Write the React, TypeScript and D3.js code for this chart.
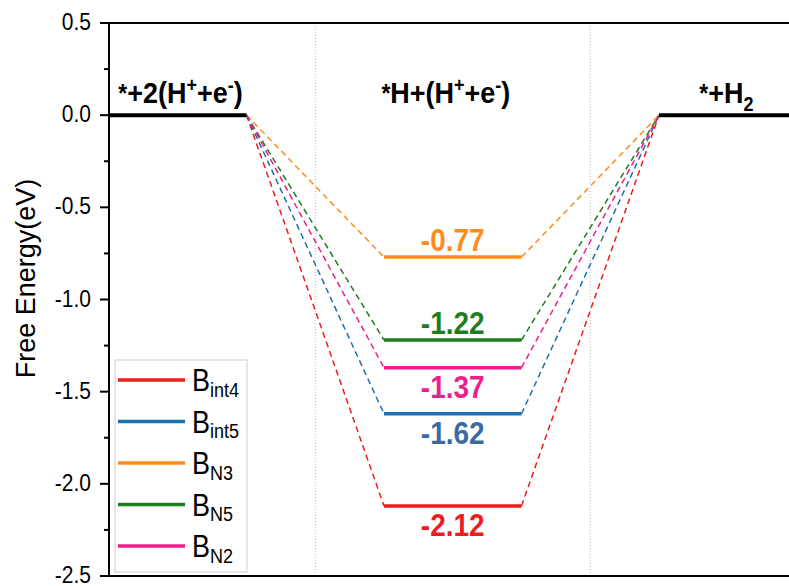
import * as d3 from "d3";

// free energy of the *H intermediate for each site, eV
const sites = ["int4", "int5", "N3", "N5", "N2"];
const energies = [-2.12, -1.62, -0.77, -1.22, -1.37];
const colors = ["#ee1c1c", "#1f6fad", "#ff8c1a", "#1e7d1e", "#ee1f8c"];
const textColors = ["#ee1c1c", "#3a6a9f", "#ff8c1a", "#1e7d1e", "#ee1f8c"];
// whether the value label sits above or below its level
const labelAbove = [false, false, true, true, false];

const yTicks = [0.5, 0.0, -0.5, -1.0, -1.5, -2.0, -2.5];

const width = 789;
const height = 586;
const margin = { top: 23, left: 109, bottom: 576 };

const font = "'Liberation Sans', Arial, sans-serif";
// the source picture is a little stretched vertically
const stretch = 1.12;

type Part = { t: string; dy?: number; size?: number };

// pieces of each step label; dy is a shift from the baseline
const stepLabels: Part[][] = [
  [{ t: "*", dy: -1, size: 23 }, { t: "+2(H" }, { t: "+", dy: -10, size: 18 }, { t: "+e" }, { t: "-", dy: -10, size: 18 }, { t: ")" }],
  [{ t: "*", dy: -1, size: 23 }, { t: "H+(H" }, { t: "+", dy: -10, size: 18 }, { t: "+e" }, { t: "-", dy: -10, size: 18 }, { t: ")" }],
  [{ t: "*", dy: -1, size: 23 }, { t: "+H" }, { t: "2", dy: 7, size: 18 }],
];
const stepCenters = [0.52, 2.45, 4.49];

function RichText({ x, y, parts, size, fill, anchor }: { x: number; y: number; parts: Part[]; size: number; fill: string; anchor: string }) {
  let cur = 0;
  return (
    <g transform={`translate(${x},${y}) scale(1,${stretch})`}>
      <text fontSize={size} fontWeight="bold" fill={fill} textAnchor={anchor} fontFamily={font}>
        {parts.map((p, i) => {
          const shift = (p.dy ?? 0) - cur;
          cur = p.dy ?? 0;
          return (
            <tspan key={i} dy={shift} fontSize={p.size ?? size}>
              {p.t}
            </tspan>
          );
        })}
      </text>
    </g>
  );
}

export default function App() {
  const x = d3.scaleLinear([0, 5], [margin.left, margin.left + 5 * 137.5]);
  const y = d3.scaleLinear([-2.5, 0.5], [margin.bottom, margin.top]);

  const minor = d3.range(-2.25, 0.5, 0.5);
  const fmt = (t: number) => d3.format(".1f")(t).replace("\u2212", "-");

  const line = d3.line<[number, number]>(
    (d) => x(d[0]),
    (d) => y(d[1]),
  );

  return (
    <svg width={width} height={height} style={{ position: "absolute", left: 0, top: 0, background: "#fff" }}>
      <rect width={width} height={height} fill="#fff" />

      {/* dotted separators */}
      {[1.5, 3.5].map((g) => (
        <line key={g} x1={x(g)} x2={x(g)} y1={margin.top + 3} y2={margin.bottom - 3} stroke="#bbb" strokeWidth={1} strokeDasharray="1,2" />
      ))}

      {/* dashed connectors */}
      {energies.map((e, i) => (
        <path
          key={"c" + i}
          d={line([[1, 0], [2, e]])! + line([[3, e], [4, 0]])!}
          fill="none"
          stroke={colors[i]}
          strokeWidth={1.5}
          strokeDasharray="6,4"
        />
      ))}

      {/* zero levels */}
      <path d={line([[0, 0], [1, 0]])! + line([[4, 0], [5.2, 0]])!} stroke="#000" strokeWidth={4} fill="none" />

      {/* intermediate levels */}
      {energies.map((e, i) => (
        <line key={"l" + i} x1={x(2)} x2={x(3)} y1={y(e)} y2={y(e)} stroke={colors[i]} strokeWidth={3.5} />
      ))}

      {/* value labels */}
      {energies.map((e, i) => (
        <g key={"v" + i} transform={`translate(${x(2.5)},${y(e) + (labelAbove[i] ? -6 : 30)}) scale(1,${stretch})`}>
          <text textAnchor="middle" fontSize={28} fontWeight="bold" fill={textColors[i]} fontFamily={font}>
            {e.toFixed(2)}
          </text>
        </g>
      ))}

      {/* step labels */}
      {stepLabels.map((p, i) => (
        <RichText key={"s" + i} x={x(stepCenters[i])} y={103} parts={p} size={27} fill="#000" anchor="middle" />
      ))}

      {/* frame */}
      <line x1={margin.left} x2={width} y1={margin.top} y2={margin.top} stroke="#000" strokeWidth={2} />
      <line x1={margin.left} x2={width} y1={margin.bottom} y2={margin.bottom} stroke="#000" strokeWidth={2} />
      <line x1={margin.left} x2={margin.left} y1={margin.top} y2={margin.bottom} stroke="#000" strokeWidth={2} />

      {/* y axis */}
      {yTicks.map((t) => (
        <g key={t}>
          <line x1={margin.left - 9} x2={margin.left} y1={y(t)} y2={y(t)} stroke="#000" strokeWidth={2} />
          <g transform={`translate(${margin.left - 18},${y(t) + 7}) scale(1,${stretch})`}>
            <text textAnchor="end" fontSize={21} fontFamily={font} fill="#000">
              {fmt(t)}
            </text>
          </g>
        </g>
      ))}
      {minor.map((t) => (
        <line key={"m" + t} x1={margin.left - 5} x2={margin.left} y1={y(t)} y2={y(t)} stroke="#000" strokeWidth={2} />
      ))}
      <text
        transform={`translate(35, ${(margin.top + margin.bottom) / 2 - 21}) rotate(-90)`}
        textAnchor="middle"
        fontSize={27}
        fontFamily={font}
        fill="#000"
      >
        Free Energy(eV)
      </text>

      {/* legend */}
      <g transform="translate(115, 360)">
        <rect width={132} height={212} fill="#fff" stroke="#ccc" strokeWidth={1} />
        {sites.map((s, i) => {
          const ly = 20 + i * 41.5;
          return (
            <g key={s} transform={`translate(0, ${ly})`}>
              <line x1={3} x2={70} y1={0} y2={0} stroke={colors[i]} strokeWidth={3.5} />
              <g transform={`translate(77, 11) scale(1,1.15)`}>
                <text fontSize={27} fontFamily={font} fill="#000">
                  B
                  <tspan fontSize={18} dy={5}>
                    {s}
                  </tspan>
                </text>
              </g>
            </g>
          );
        })}
      </g>
    </svg>
  );
}
